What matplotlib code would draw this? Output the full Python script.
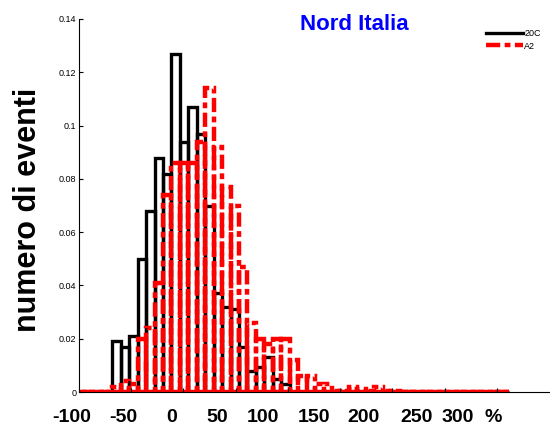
import numpy as np
import matplotlib.pyplot as plt
from matplotlib.lines import Line2D

plt.rcParams['font.family'] = ['Liberation Sans', 'DejaVu Sans']

# histogram bins (data units on the plotted axis)
bin_start = -100.5
bin_width = 8.09
n_bins = 51

# normalised counts per bin
h_20c = [0, 0, 0, 0, 0.019, 0.017, 0.021, 0.050, 0.068, 0.088,
         0.082, 0.127, 0.094, 0.107, 0.097, 0.070, 0.037, 0.032, 0.031, 0.017,
         0.008, 0.0094, 0.013, 0.005, 0.003, 0, 0, 0, 0, 0,
         0, 0, 0, 0, 0, 0, 0, 0, 0, 0,
         0, 0, 0, 0, 0, 0, 0, 0, 0, 0,
         0]
h_a2 = [0, 0, 0, 0, 0.002, 0.004, 0.003, 0.020, 0.024, 0.041,
        0.074, 0.086, 0.086, 0.086, 0.094, 0.114, 0.092, 0.077, 0.070, 0.047,
        0.026, 0.020, 0.018, 0.020, 0.020, 0.012, 0.006, 0.006, 0.003, 0.003,
        0.0005, 0.0005, 0.002, 0.001, 0.0005, 0.002, 0.0003, 0.0003, 0, 0,
        0, 0, 0, 0, 0, 0, 0, 0, 0, 0,
        0]

yticks = [0, 0.02, 0.04, 0.06, 0.08, 0.1, 0.12, 0.14]
ytick_labels = ['0', '0.02', '0.04', '0.06', '0.08', '0.1', '0.12', '0.14']
xticks = np.arange(-100, 301, 50)
pct_labels = ['-100', '-50', '0', '50', '100', '150', '200', '250', '300', '%']
pct_label_px = [72, 123, 172, 217, 263, 314, 363, 417, 458, 493]

centers = bin_start + bin_width * (np.arange(n_bins) + 0.5)
dashdot = (0, (3.2, 1.0, 1.3, 1.0))

fig = plt.figure(figsize=(5.5, 4.26), dpi=100)
ax = fig.add_axes([79 / 550, 34 / 426, 470 / 550, 373 / 426])

ax.bar(centers, h_20c, width=bin_width, fill=False, edgecolor='black',
       linewidth=2.4, joinstyle='miter')
ax.bar(centers, h_a2, width=bin_width, fill=False, edgecolor='red',
       linewidth=3.2, linestyle=dashdot, joinstyle='miter')

ax.set_xlim(-100, 350)
ax.set_ylim(0, 0.14)
ax.set_xticks(xticks)
ax.set_xticklabels([])
ax.set_yticks(yticks)
ax.set_yticklabels(ytick_labels, fontsize=6.5)
ax.tick_params(direction='in', length=3, width=0.8, pad=2)
for s in ['top', 'right']:
    ax.spines[s].set_visible(False)
for s in ['left', 'bottom']:
    ax.spines[s].set_linewidth(0.8)

fig.text(28 / 550, 1 - 210 / 426, 'numero di eventi', fontsize=22,
         fontweight='bold', rotation=90, ha='center', va='center')
fig.text(354 / 550, 1 - 25 / 426, 'Nord Italia', color='blue', fontsize=16,
         fontweight='bold', ha='center', va='center')

for lab, px in zip(pct_labels, pct_label_px):
    fig.text(px / 550, 1 - 417 / 426, lab, fontsize=14, fontweight='bold',
             ha='center', va='center')

handles = [Line2D([], [], color='black', linewidth=2.4),
           Line2D([], [], color='red', linewidth=3.2, linestyle=dashdot)]
ax.legend(handles, ['20C', 'A2'], loc='upper right', bbox_to_anchor=(1.0, 0.995),
          frameon=False, fontsize=6.5, handlelength=4.2, handletextpad=0.1,
          labelspacing=0.4)

fig.savefig('out.png', dpi=100)
